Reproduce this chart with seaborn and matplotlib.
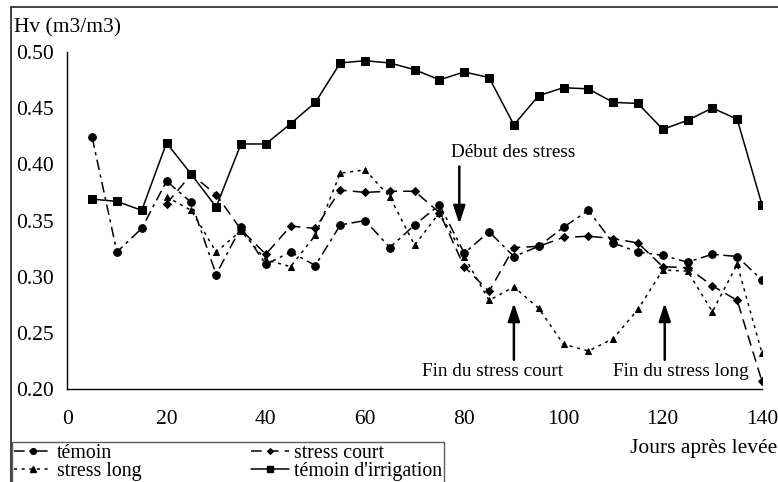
import numpy as np
import pandas as pd
import matplotlib
matplotlib.use("Agg")
import matplotlib.pyplot as plt
from matplotlib.lines import Line2D
import seaborn as sns

days_full = [5, 10, 15, 20, 25, 30, 35, 40, 45, 50, 55, 60, 65, 70, 75, 80, 85, 90,
             95, 100, 105, 110, 115, 120, 125, 130, 135, 140]
days_stress = days_full[3:]

temoin = [0.424, 0.322, 0.343, 0.385, 0.366, 0.302, 0.344, 0.311, 0.322, 0.310,
          0.346, 0.350, 0.326, 0.346, 0.364, 0.321, 0.340, 0.318, 0.327, 0.344,
          0.359, 0.330, 0.322, 0.319, 0.313, 0.320, 0.318, 0.297]
stress_court = [0.365, 0.391, 0.373, 0.342, 0.320, 0.345, 0.343, 0.377, 0.375,
                0.376, 0.376, 0.357, 0.309, 0.287, 0.326, 0.327, 0.335, 0.336,
                0.334, 0.330, 0.309, 0.308, 0.292, 0.279, 0.207]
stress_long = [0.371, 0.359, 0.322, 0.341, 0.315, 0.309, 0.337, 0.392, 0.395,
               0.371, 0.328, 0.357, 0.318, 0.279, 0.291, 0.272, 0.240, 0.234,
               0.245, 0.271, 0.306, 0.305, 0.269, 0.311, 0.232]
irrigation = [0.369, 0.367, 0.359, 0.419, 0.391, 0.362, 0.418, 0.418, 0.436, 0.455,
              0.490, 0.492, 0.490, 0.484, 0.475, 0.482, 0.477, 0.435, 0.461, 0.468,
              0.467, 0.455, 0.454, 0.431, 0.439, 0.450, 0.440, 0.364]

labels = ["témoin", "stress court", "stress long", "témoin d'irrigation"]
yticks = [0.20, 0.25, 0.30, 0.35, 0.40, 0.45, 0.50]
xticks = [0, 20, 40, 60, 80, 100, 120, 140]

sns.set_theme(style="white")
plt.rcParams["font.family"] = ["Liberation Serif", "DejaVu Serif"]
plt.rcParams["text.color"] = "black"

W, H = 778, 482
fig = plt.figure(figsize=(W / 100, H / 100), dpi=100)
ax = fig.add_axes([67.3 / W, 1 - 389.3 / H, (762 - 67.3) / W, (389.3 - 51.7) / H])

lw = 1.1
styles = {
    "témoin": dict(linestyle=(0, (7, 3, 2, 3)), marker="o", markersize=5.5),
    "stress court": dict(linestyle=(0, (7, 4)), marker="D", markersize=3.8),
    "stress long": dict(linestyle=(0, (2, 3)), marker="^", markersize=5),
    "témoin d'irrigation": dict(linestyle="-", marker="s", markersize=6),
}
series = [(days_full, temoin, "témoin"), (days_stress, stress_court, "stress court"),
          (days_stress, stress_long, "stress long"), (days_full, irrigation, "témoin d'irrigation")]
for xs, ys, name in series:
    df = pd.DataFrame({"jour": xs, "hv": ys})
    sns.lineplot(data=df, x="jour", y="hv", ax=ax, color="black", linewidth=lw,
                 markeredgecolor="black", markerfacecolor="black", label=None,
                 legend=False, **styles[name])

ax.set_xlim(0, 140)
ax.set_ylim(0.2, 0.5)
ax.set_xticks(xticks)
ax.set_yticks(yticks)
ax.set_yticklabels([f"{v:.2f}" for v in yticks])
ax.set_xlabel("")
ax.set_ylabel("")
for s in ["top", "right"]:
    ax.spines[s].set_visible(False)
for s in ["left", "bottom"]:
    ax.spines[s].set_color("black")
    ax.spines[s].set_linewidth(1.0)
ax.tick_params(axis="both", direction="out", length=5, width=1.0, colors="black",
               labelsize=15.5)
ax.tick_params(axis="x", pad=10)
ax.tick_params(axis="y", pad=5)
ax.grid(False)

# annotations
arrowkw = dict(arrowstyle="-|>,head_length=0.9,head_width=0.3", color="black", lw=1.8,
               shrinkA=0, shrinkB=0)
ax.annotate("", xy=(79, 0.347), xytext=(79, 0.398), arrowprops=arrowkw)
ax.text(89.9, 0.4104, "Début des stress", ha="center", va="center", fontsize=13.8)
ax.annotate("", xy=(90, 0.2766), xytext=(90, 0.2262), arrowprops=arrowkw)
ax.text(85.7, 0.2155, "Fin du stress court", ha="center", va="center", fontsize=13.8)
ax.annotate("", xy=(120.4, 0.2766), xytext=(120.4, 0.2262), arrowprops=arrowkw)
ax.text(123.7, 0.2155, "Fin du stress long", ha="center", va="center", fontsize=13.8)

fig.text(14 / W, 1 - 28 / H, "Hv (m3/m3)", ha="left", va="center", fontsize=15.5)
fig.text(777 / W, 1 - 448 / H, "Jours après levée", ha="right", va="center", fontsize=15.5)

# outer frame (top and left)
fig.add_artist(Line2D([11 / W, 11 / W], [0, 1 - 7 / H], transform=fig.transFigure,
                      color="#333333", lw=1.3))
fig.add_artist(Line2D([11 / W, 1], [1 - 7 / H, 1 - 7 / H], transform=fig.transFigure,
                      color="#333333", lw=1.3))

handles = []
for name in ["témoin", "stress long", "stress court", "témoin d'irrigation"]:
    st = styles[name]
    handles.append(Line2D([], [], color="black", lw=lw, linestyle=st["linestyle"],
                          marker=st["marker"], markersize=st["markersize"] * 0.75,
                          label=name))
leg = fig.legend(handles=handles, loc="upper left", ncol=2,
                 bbox_to_anchor=(12 / W, 1 - 442 / H, (444 - 12) / W, 0.0), mode="expand",
                 borderaxespad=0, fontsize=14.3, frameon=True, fancybox=False,
                 handlelength=1.9, handletextpad=0.25, labelspacing=-0.05,
                 borderpad=0.1, columnspacing=1.0)
leg.get_frame().set_edgecolor("#333333")
leg.get_frame().set_linewidth(1.0)

fig.savefig("out.png", dpi=100)
